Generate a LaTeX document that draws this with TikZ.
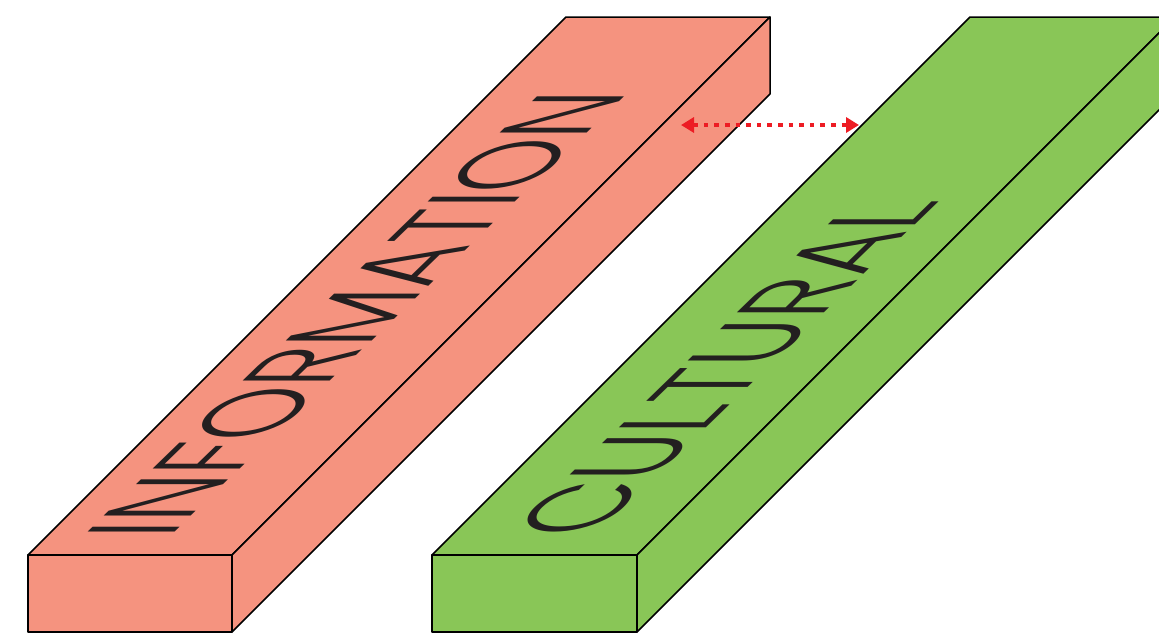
\documentclass[tikz,border=0pt]{standalone}
\usepackage{graphicx}
\usepackage{fontspec}
\IfFontExistsTF{Poppins Light}
  {\newfontfamily\slabfont{Poppins Light}}
  {\newfontfamily\slabfont{Poppins}}
\usetikzlibrary{arrows.meta}
\definecolor{infosalmon}{HTML}{F5937F}
\definecolor{cultgreen}{HTML}{89C657}
\definecolor{linkred}{HTML}{ED1C24}
\definecolor{inkgray}{HTML}{231F20}
\tikzset{
  slab/.style={draw=black, line width=0.75pt, line join=round},
  slabtext/.style={inner sep=0pt, anchor=center, text=inkgray, font=\slabfont,
    cm={1,0.97,-1,0,(0,0)}},
  link/.style={draw=linkred, line width=2.3pt, dash pattern=on 2.3pt off 3pt,
    {Triangle[length=6.5pt,width=7.5pt]}-{Triangle[length=6.5pt,width=7.5pt]}}
}

\begin{document}
\begin{tikzpicture}[x=0.5pt,y=-0.5pt]
\useasboundingbox (0,0) rectangle (1159,637);
\clip (0,0) rectangle (1159,637);

\filldraw[slab, fill=infosalmon] (28,555) -- (232,555) -- (770,17) -- (566,17) -- cycle;
\filldraw[slab, fill=infosalmon] (232,555) -- (770,17) -- (770,94) -- (232,632) -- cycle;
\filldraw[slab, fill=infosalmon] (28,555) rectangle (232,632);

\filldraw[slab, fill=cultgreen] (432,555) -- (637,555) -- (1175,17) -- (970,17) -- cycle;
\filldraw[slab, fill=cultgreen] (637,555) -- (1175,17) -- (1175,94) -- (637,632) -- cycle;
\filldraw[slab, fill=cultgreen] (432,555) rectangle (637,632);

\node[slabtext] (info) at (356,314) {\resizebox{230pt}{44pt}{INFORMATION}};
\node[slabtext] (cult) at (724,368) {\resizebox{173pt}{44pt}{CULTURAL}};

\coordinate (linkL) at (681,125);
\coordinate (linkR) at (859,125);
\draw[link] (linkL) -- (linkR);
\end{tikzpicture}
\end{document}
